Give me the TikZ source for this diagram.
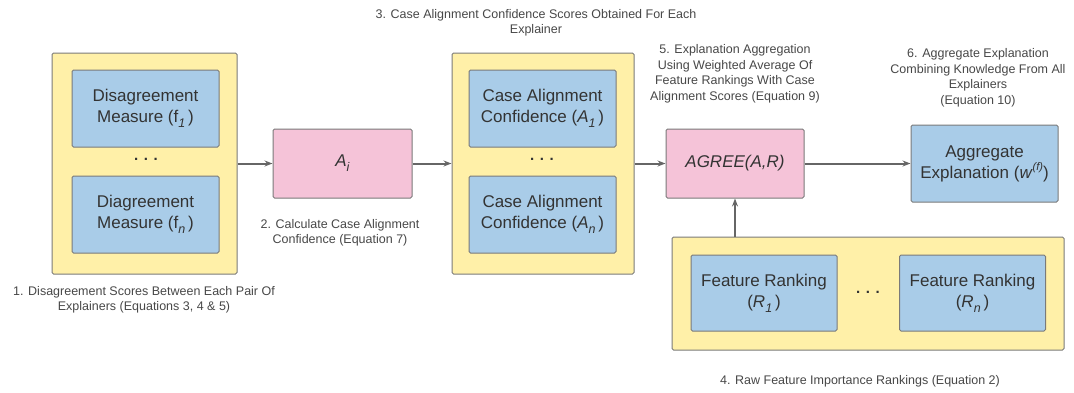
\documentclass[tikz,border=0pt]{standalone}
\usepackage{fontspec}
\setmainfont{Liberation Sans}
\usetikzlibrary{arrows.meta, positioning}
\definecolor{mYellow}{HTML}{FFF0A8}
\definecolor{mBlue}{HTML}{A9CCE8}
\definecolor{mPink}{HTML}{F5C3D8}
\definecolor{mEdge}{HTML}{7A7A7A}
\definecolor{mText}{HTML}{333333}
\definecolor{mArrow}{HTML}{666666}
\newcommand{\lowidx}[1]{\raisebox{-0.3em}{\fontsize{12.5}{12.5}\selectfont\textit{#1}}}
\newcommand{\highidx}[1]{\raisebox{0.45em}{\fontsize{11}{11}\selectfont\textit{#1}}}
\tikzset{
  outerbox/.style={draw=mEdge, fill=mYellow, rounded corners=1.5pt, line width=1pt},
  bluebox/.style={draw=mEdge, fill=mBlue, rounded corners=1.5pt, line width=1pt,
    minimum width=147pt, minimum height=77pt, align=center, text=mText,
    font=\fontsize{17}{21}\selectfont},
  pinkbox/.style={draw=mEdge, fill=mPink, rounded corners=1.5pt, line width=1pt,
    minimum width=138pt, minimum height=69pt, align=center, text=mText,
    font=\fontsize{17}{21}\selectfont},
  steplabel/.style={align=center, text=mText!90, font=\fontsize{12.5}{15.5}\selectfont},
  dotsnode/.style={text=mText, font=\bfseries\fontsize{15}{15}\selectfont},
  arr/.style={-{Stealth[length=8pt, width=6pt]}, line width=2pt, mArrow}
}
\begin{document}
\begin{tikzpicture}[x=1pt, y=-1pt]
    \useasboundingbox (0,0) rectangle (1074,392);
    % explainer disagreement
    \node[outerbox, minimum width=185pt, minimum height=221pt] (outerF) at (144.5,163.5) {};
    \node[bluebox] (f1) at (145.5,108.5) {Disagreement\\Measure (f\lowidx{1}\,)};
    \node[dotsnode] (dotsF) at (146,159) {. . .};
    \node[bluebox] (fn) at (145.5,214.5) {Diagreement\\Measure (f\lowidx{n}\,)};
    \node[steplabel] (lblOne) at (144,300) {1. Disagreement Scores Between Each Pair Of\\Explainers (Equations 3, 4 \& 5)};
    % case alignment
    \node[pinkbox, minimum width=139pt] (Ai) at (342.5,163.5) {\textit{A}\lowidx{i}};
    \node[steplabel] (lblTwo) at (340,233) {2. Calculate Case Alignment\\Confidence (Equation 7)};
    \node[outerbox, minimum width=182pt, minimum height=221pt] (outerA) at (543,163.5) {};
    \node[bluebox] (A1) at (542.5,108.5) {Case Alignment\\Confidence (\textit{A}\lowidx{1}\,)};
    \node[dotsnode] (dotsA) at (542,159) {. . .};
    \node[bluebox] (An) at (542.5,214.5) {Case Alignment\\Confidence (\textit{A}\lowidx{n}\,)};
    \node[steplabel] (lblThree) at (536,23) {3. Case Alignment Confidence Scores Obtained For Each\\Explainer};
    % aggregation
    \node[pinkbox] (agree) at (735,163.5) {\textit{AGREE(A,R)}};
    \node[steplabel] (lblFive) at (735,74) {5. Explanation Aggregation\\Using Weighted Average Of\\Feature Rankings With Case\\Alignment Scores (Equation 9)};
    \node[bluebox] (aggr) at (984.5,163.5) {Aggregate\\Explanation (\textit{w}\highidx{(f)})};
    \node[steplabel] (lblSix) at (978,78) {6. Aggregate Explanation\\Combining Knowledge From All\\Explainers\\(Equation 10)};
    % feature rankings
    \node[outerbox, minimum width=392pt, minimum height=113pt] (outerR) at (868,293.5) {};
    \node[bluebox, minimum width=146pt, minimum height=76pt] (R1) at (764,293) {Feature Ranking\\(\textit{R}\lowidx{1}\,)};
    \node[dotsnode] (dotsR) at (868,292) {. . .};
    \node[bluebox, minimum width=146pt, minimum height=76pt] (Rn) at (972.5,293) {Feature Ranking\\(\textit{R}\lowidx{n}\,)};
    \node[steplabel] (lblFour) at (860,381) {4. Raw Feature Importance Rankings (Equation 2)};
    % connectors
    \draw[arr] (outerF) -- (Ai);
    \draw[arr] (Ai) -- (outerA);
    \draw[arr] (outerA) -- (agree);
    \draw[arr] (agree) -- (aggr);
    \draw[arr] (agree.south |- outerR.north) -- (agree.south);
\end{tikzpicture}
\end{document}
